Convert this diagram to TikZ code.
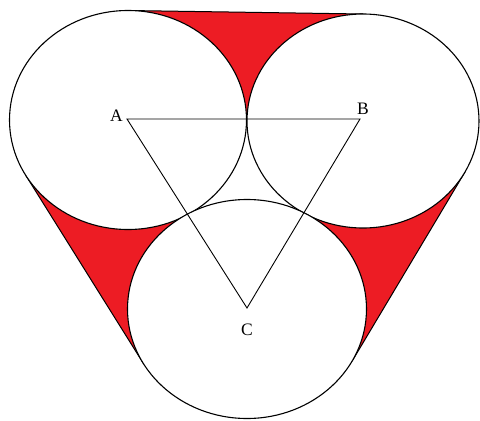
\documentclass[tikz,border=0pt]{standalone}
\usepackage{fontspec}
\setmainfont{Liberation Serif}
\definecolor{paintred}{RGB}{237,28,36}
\begin{document}
\begin{tikzpicture}[x=1pt,y=-1pt,
  gap/.style={fill=paintred,draw=black,line width=1pt,line join=round},
  disc/.style={fill=white,draw=black,line width=1.1pt},
  tri/.style={draw=black,line width=0.9pt},
  lbl/.style={font=\fontsize{17.5}{17.5}\selectfont,inner sep=0pt}]
\useasboundingbox (0,0) rectangle (480,421);
% ellipse centres
\coordinate (cA) at (128,120);
\coordinate (cB) at (363,121);
\coordinate (cC) at (247,309);
% tangent and contact points
\coordinate (tA) at (128,10.5);
\coordinate (tB) at (363,14);
\coordinate (pAB) at (246.8,120);
\coordinate (tAL) at (25.8,175.4);
\coordinate (tCL) at (143.8,364.1);
\coordinate (pAC) at (187.5,214.5);
\coordinate (tBR) at (465.1,171.8);
\coordinate (tCR) at (352.3,360.8);
\coordinate (pBC) at (304,213);
% red gaps
\path[gap] (tA) -- (tB) -- (pAB) -- cycle;
\path[gap] (tAL) -- (tCL) -- (pAC) -- cycle;
\path[gap] (tBR) -- (tCR) -- (pBC) -- cycle;
% circles
\path[disc] (cA) ellipse [x radius=118.5pt, y radius=109.5pt];
\path[disc] (cB) ellipse [x radius=116pt, y radius=107pt];
\path[disc] (cC) ellipse [x radius=119.5pt, y radius=109.5pt];
% triangle
\coordinate (A) at (127,119);
\coordinate (B) at (360,119);
\coordinate (C) at (247,308);
\draw[tri] (A) -- (B) -- (C) -- cycle;
\node[lbl] (la) at (116.5,116) {A};
\node[lbl] (lb) at (363,108.5) {B};
\node[lbl] (lc) at (247,330) {C};
\end{tikzpicture}
\end{document}
